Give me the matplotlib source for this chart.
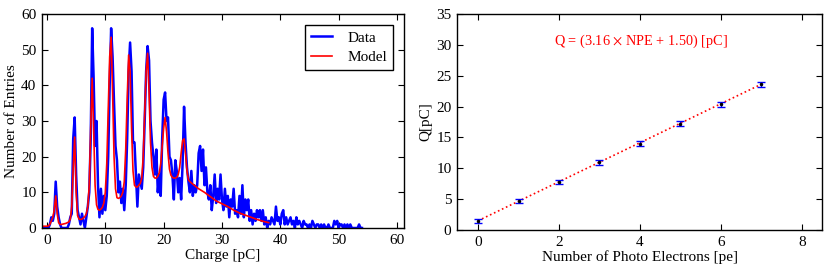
import numpy as np
import matplotlib
matplotlib.use("Agg")
import matplotlib.pyplot as plt

plt.rcParams['font.family'] = ['Liberation Serif', 'DejaVu Serif']
plt.rcParams['mathtext.fontset'] = 'stix'

# ---------------- Left panel: charge spectrum ----------------
data_start = -0.75
data_step = 0.25
data_counts = [
    0, 0, 0,
    0, 0, 1, 3,
    2, 4, 13, 6,
    3, 1, 0, 0,
    0, 0, 0, 1,
    3, 4, 25, 31,
    15, 5, 3, 1,
    4, 2, 0, 3,
    6, 10, 25, 56,
    42, 23, 30, 12,
    3, 11, 4, 9,
    5, 9, 20, 40,
    56, 48, 35, 23,
    19, 10, 13, 7,
    11, 5, 12, 25,
    44, 52, 44, 24,
    24, 15, 6, 15,
    13, 11, 17, 30,
    44, 51, 47, 30,
    24, 20, 15, 22,
    10, 15, 9, 25,
    36, 38, 30, 31,
    20, 19, 15, 8,
    19, 16, 10, 14,
    8, 18, 34, 24,
    17, 13, 10, 16,
    9, 12, 10, 12,
    21, 23, 16, 22,
    12, 17, 10, 8,
    12, 5, 9, 15,
    7, 11, 8, 15,
    8, 5, 11, 6,
    9, 3, 8, 6,
    11, 4, 5, 3,
    9, 4, 12, 3,
    8, 5, 8, 2,
    5, 1, 4, 2,
    5, 3, 5, 2,
    5, 1, 3, 0,
    2, 1, 3, 2,
    1, 6, 2, 3,
    1, 4, 5, 1,
    3, 1, 2, 3,
    1, 2, 0, 3,
    1, 2, 1, 0,
    2, 1, 1, 0,
    1, 0, 2, 1,
    0, 1, 1, 0,
    1, 0, 1, 0,
    0, 1, 0, 0,
    0, 2, 1, 2,
    0, 1, 1, 0,
    1, 0, 1, 0,
    1, 0, 0, 0,
    0, 0, 1, 0,
    0,
]
data_charge = data_start + data_step * np.arange(len(data_counts))

model_charge = [
    -0.75, -0.5, -0.25, 0.0, 0.25, 0.5, 0.75, 1.0, 1.25, 1.5, 1.75, 2.0, 2.25,
    2.5, 2.75, 3.0, 3.25, 3.5, 3.75, 4.0, 4.25, 4.5, 4.75, 5.0, 5.25, 5.5,
    5.75, 6.0, 6.25, 6.5, 6.75, 7.0, 7.25, 7.5, 7.75, 8.0, 8.25, 8.5, 8.75,
    9.0, 9.25, 9.5, 9.75, 10.0, 10.25, 10.5, 10.75, 11.0, 11.25, 11.5, 11.75,
    12.0, 12.25, 12.5, 12.75, 13.0, 13.25, 13.5, 13.75, 14.0, 14.25, 14.5,
    14.75, 15.0, 15.25, 15.5, 15.75, 16.0, 16.25, 16.5, 16.75, 17.0, 17.25,
    17.5, 17.75, 18.0, 18.25, 18.5, 18.75, 19.0, 19.25, 19.5, 19.75, 20.0,
    20.25, 20.5, 20.75, 21.0, 21.25, 21.5, 21.75, 22.0, 22.25, 22.5, 22.75,
    23.0, 23.25, 23.5, 23.75, 24.0, 24.25, 24.5, 25, 26, 27, 28, 29, 30, 31,
    32, 33, 34, 35, 36, 37, 38,
]
model_counts = [
    0.5, 0.5, 0.5, 0.5, 0.6, 1.0, 2.0, 3.0, 5.0, 9.0, 4.0, 1.5, 1.0,
    1.0, 1.1, 1.2, 1.3, 1.5, 1.7, 2.5, 6.0, 17.0, 25.5, 10.0, 3.5, 2.5,
    2.4, 2.5, 2.8, 3.2, 4.0, 6.0, 12.0, 28.0, 42.0, 28.0, 12.0, 6.5, 5.2,
    5.0, 5.3, 5.8, 7.0, 10.0, 18.0, 33.0, 48.0, 53.5, 38.0, 20.0, 11.0,
    8.5, 8.3, 8.5, 9.0, 10.0, 13.0, 22.0, 36.0, 48.5, 44.0, 28.0,
    16.0, 12.0, 11.5, 11.5, 12.0, 12.5, 14.0, 20.0, 32.0, 44.0, 49.0,
    38.0, 24.0, 17.0, 14.5, 14.0, 14.0, 14.5, 15.5, 18.0, 23.0, 28.0,
    31.0, 27.0, 21.0, 16.5, 14.8, 14.2, 14.0, 14.0, 14.2, 15.0, 17.0,
    21.0, 24.5, 25.0, 21.0, 16.0, 13.5, 13.0, 12.3, 11.0, 10.0, 8.8, 7.6, 6.8, 6.0,
    5.0, 4.2, 3.6, 3.0, 2.4, 1.9, 1.5,
]

# ---------------- Right panel: calibration ----------------
npe = [0, 1, 2, 3, 4, 5, 6, 7]
q_mean = [1.45, 4.65, 7.8, 10.95, 14.0, 17.25, 20.35, 23.6]
q_err = [0.3, 0.35, 0.35, 0.4, 0.35, 0.35, 0.4, 0.4]
fit_slope = 3.16
fit_offset = 1.50
fit_npe = [0, 7]

fig = plt.figure(figsize=(8.3, 2.67), dpi=100)
ax1 = fig.add_axes([42/830, 1-228/267, (404-42)/830, (228-14)/267])
ax2 = fig.add_axes([457/830, 1-230/267, (822-457)/830, (230-14)/267])

for ax in (ax1, ax2):
    ax.tick_params(direction='in', top=True, right=True, labelsize=11,
                   length=4, width=0.8, pad=4)
    for s in ax.spines.values():
        s.set_linewidth(1.0)

ax1.plot(data_charge, data_counts, color='blue', lw=1.8, label='Data')
ax1.plot(model_charge, model_counts, color='red', lw=1.2, label='Model')
ax1.set_xlim(-0.85, 61.2)
ax1.set_ylim(0, 60)
ax1.set_xticks([0, 10, 20, 30, 40, 50, 60])
ax1.set_yticks([0, 10, 20, 30, 40, 50, 60])
ax1.set_xlabel('Charge [pC]', fontsize=11, labelpad=2)
ax1.set_ylabel('Number of Entries', fontsize=11, labelpad=2)
leg = ax1.legend(loc='upper right', fontsize=11, fancybox=False,
                 edgecolor='black', framealpha=1, borderpad=0.4,
                 handlelength=1.4, handletextpad=1.0, labelspacing=0.4,
                 borderaxespad=0.7)
leg.get_frame().set_linewidth(1.0)

fit_q = [fit_slope * n + fit_offset for n in fit_npe]
ax2.plot(fit_npe, fit_q, color='red', ls=':', lw=1.2)
ax2.errorbar(npe, q_mean, yerr=q_err, fmt='.', color='black', ms=3,
             ecolor='blue', elinewidth=1.0, capsize=3, capthick=1.0)
ax2.text(4.03, 30.5, r'Q = (3.16 $\times$ NPE + 1.50) [pC]', color='red',
         fontsize=10.3, ha='center', va='center')
ax2.set_xlim(-0.52, 8.5)
ax2.set_ylim(0, 35)
ax2.set_xticks([0, 2, 4, 6, 8])
ax2.set_yticks([0, 5, 10, 15, 20, 25, 30, 35])
ax2.set_xlabel('Number of Photo Electrons [pe]', fontsize=11, labelpad=1)
ax2.set_ylabel('Q[pC]', fontsize=11, labelpad=3)

fig.savefig('out.png', dpi=100)
